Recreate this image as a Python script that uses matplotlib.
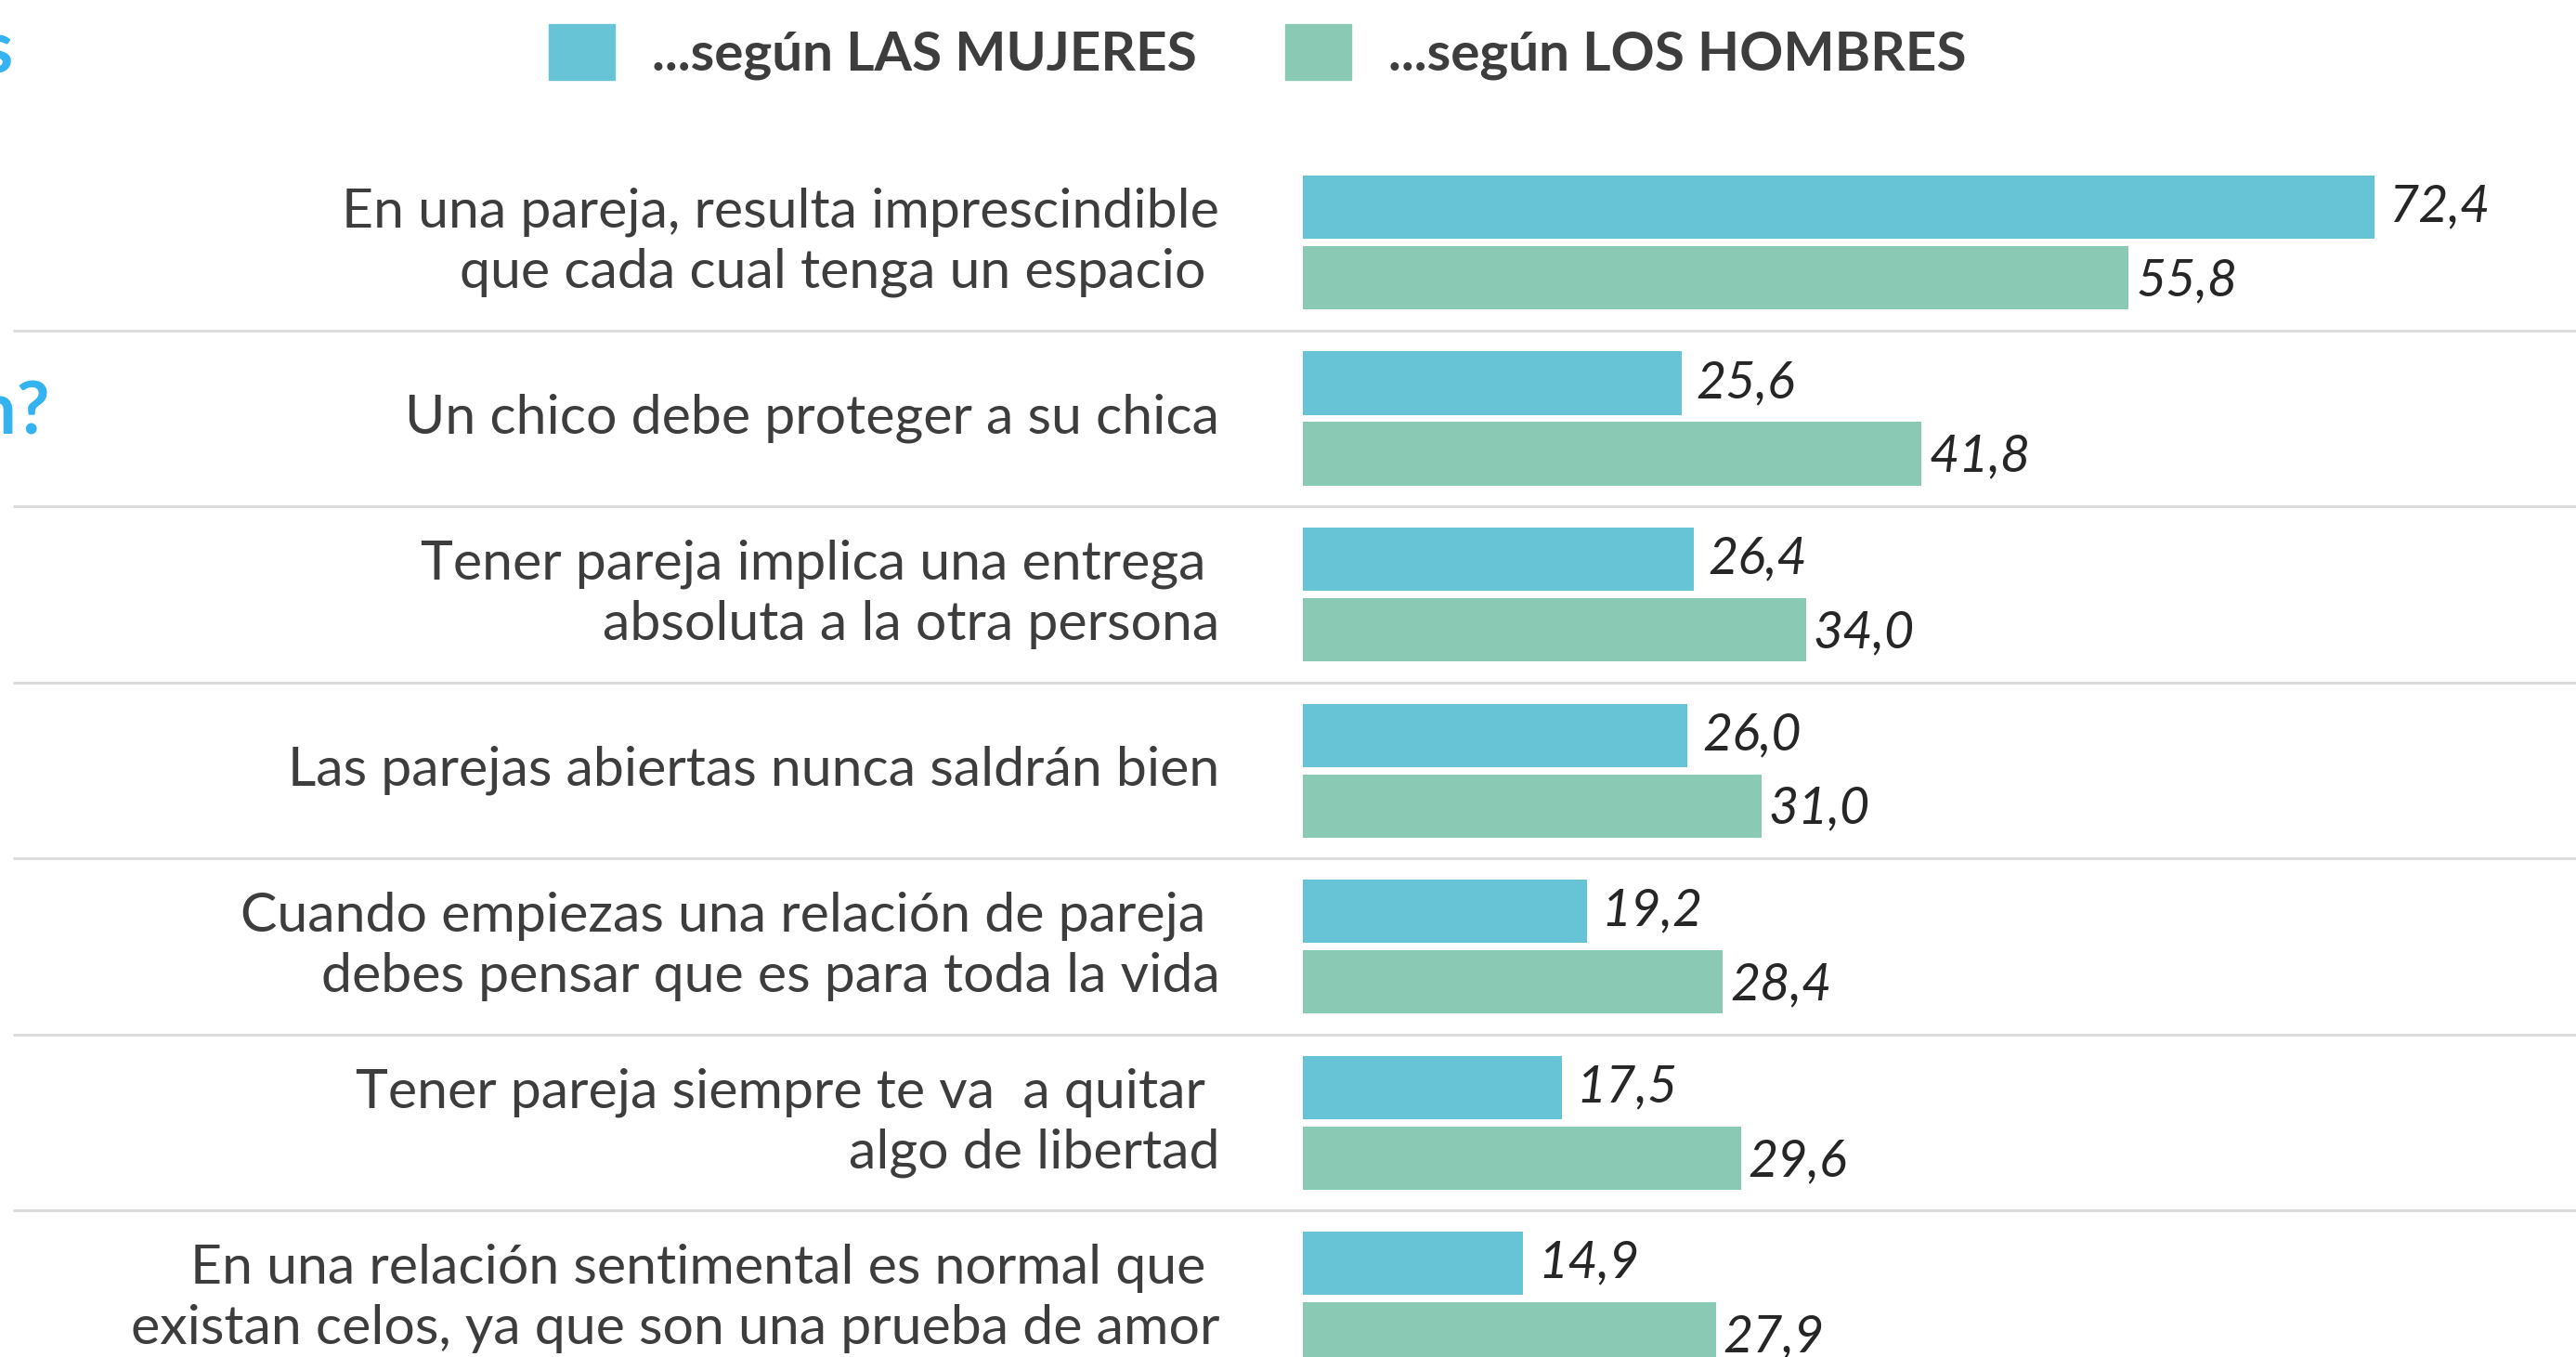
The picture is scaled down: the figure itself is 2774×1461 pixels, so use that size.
import matplotlib.pyplot as plt
from matplotlib.patches import Patch

# --- data ---
frases = [
    "En una pareja, resulta imprescindible\nque cada cual tenga un espacio ",
    "Un chico debe proteger a su chica",
    "Tener pareja implica una entrega \nabsoluta a la otra persona",
    "Las parejas abiertas nunca saldrán bien",
    "Cuando empiezas una relación de pareja \ndebes pensar que es para toda la vida",
    "Tener pareja siempre te va  a quitar \nalgo de libertad",
    "En una relación sentimental es normal que \nexistan celos, ya que son una prueba de amor",
]
mujeres = [72.4, 25.6, 26.4, 26.0, 19.2, 17.5, 14.9]
hombres = [55.8, 41.8, 34.0, 31.0, 28.4, 29.6, 27.9]
series_labels = ["...según LAS MUJERES", "...según LOS HOMBRES"]

azul = "#67c3d6"
verde = "#8acab5"
texto = "#3d3d3d"

def fmt(v):
    return f"{v:.1f}".replace(".", ",")

fig = plt.figure(figsize=(27.74, 14.61), dpi=100)
ax = fig.add_axes([0, 0, 1, 1])
ax.set_xlim(-87.96, 86.0)
ax.set_ylim(6.332, -1.377)
ax.axis("off")

ypos = list(range(len(frases)))
off = 0.2005
h = 0.359
ax.barh([y - off for y in ypos], mujeres, height=h, color=azul)
ax.barh([y + off for y in ypos], hombres, height=h, color=verde)

for y, m, hh in zip(ypos, mujeres, hombres):
    ax.text(m + 1.0, y - off, fmt(m), ha="left", va="center", fontsize=40,
            family="Lato", style="italic", color="#262626")
    ax.text(hh + 0.5, y + off + 0.02, fmt(hh), ha="left", va="center", fontsize=40,
            family="Lato", style="italic", color="#262626")

for y, f in zip(ypos, frases):
    ax.text(-5.6, y, f, ha="right", va="center", multialignment="right",
            fontsize=42.5, family="Lato", color=texto, linespacing=1.27)

# separators between groups
for y in ypos[:-1]:
    ax.plot([-87.1, 86.0], [y + 0.5, y + 0.5], color="#dcdcdc", lw=2.2, solid_capstyle="butt")

# legend
leg = fig.legend(handles=[Patch(color=azul), Patch(color=verde)], labels=series_labels,
                 loc="center left", bbox_to_anchor=(591 / 2774, 1 - 56 / 1461),
                 ncol=2, frameon=False, borderpad=0, borderaxespad=0,
                 handlelength=1.21, handleheight=1.21, handletextpad=0.69,
                 columnspacing=1.64, prop={"family": "Lato", "weight": "bold", "size": 42})
for t in leg.get_texts():
    t.set_color(texto)

# clipped title at the left edge
fig.text(14 / 2774, 1 - 78 / 1461, "Creencias sobre las parejas", ha="right", va="baseline",
         fontsize=56, weight="bold", family="Lato", color="#35b3f0")
fig.text(53 / 2774, 1 - 467 / 1461, "¿Cuál es tu opinión?", ha="right", va="baseline",
         fontsize=56, weight="bold", family="Lato", color="#35b3f0")

fig.savefig("out.png", dpi=100, facecolor="white")
